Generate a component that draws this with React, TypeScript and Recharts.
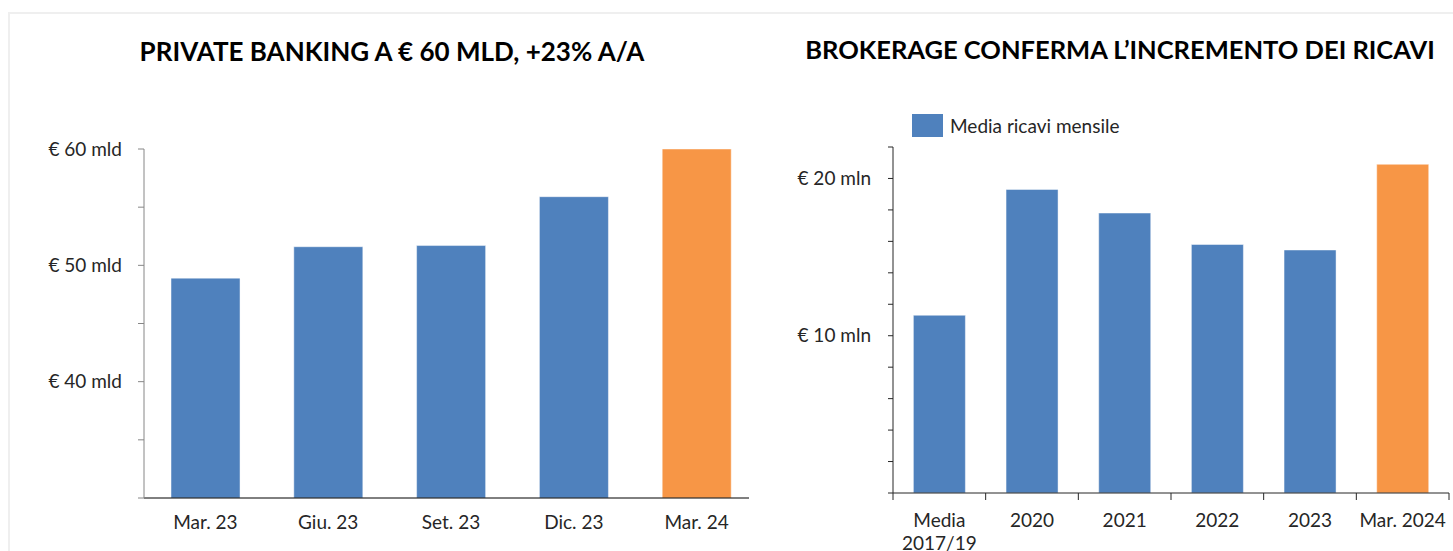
import { BarChart, Bar, XAxis, YAxis, Cell } from "recharts"

const BLUE = "#4F81BD"
const ORANGE = "#F79646"
const FONT = "Lato, 'Open Sans', sans-serif"

// Private banking (mld)
const PB_CATEGORIES = ["Mar. 23", "Giu. 23", "Set. 23", "Dic. 23", "Mar. 24"]
const PB_VALUES = [48.9, 51.6, 51.7, 55.9, 60.0]
const PB_TICKS = [30, 35, 40, 45, 50, 55, 60]
const PB_TICK_LABELS: Record<number, string> = { 40: "€ 40 mld", 50: "€ 50 mld", 60: "€ 60 mld" }

// Brokerage (mln)
const BR_CATEGORIES = ["Media\n2017/19", "2020", "2021", "2022", "2023", "Mar. 2024"]
const BR_VALUES = [11.3, 19.3, 17.8, 15.8, 15.45, 20.9]
const BR_TICKS = [0, 2, 4, 6, 8, 10, 12, 14, 16, 18, 20, 22]
const BR_TICK_LABELS: Record<number, string> = { 10: "€ 10 mln", 20: "€ 20 mln" }

const pbData = PB_CATEGORIES.map((name, i) => ({ name, value: PB_VALUES[i] }))
const brData = BR_CATEGORIES.map((name, i) => ({ name, value: BR_VALUES[i] }))

const BR_TICK_LEN = 7
const BR_TICK_MARGIN = 14

// category ticks drawn between bars, excel style
function BrokerageTick(props: any) {
  const { x, y, payload, index, visibleTicksCount } = props
  const half = payload?.offset ?? 46
  const axisY = y - BR_TICK_LEN - BR_TICK_MARGIN
  const lines = String(payload.value).split("\n")
  const isLast = index === (visibleTicksCount ?? BR_CATEGORIES.length) - 1
  return (
    <g>
      <line x1={x - half} x2={x - half} y1={axisY} y2={axisY + BR_TICK_LEN} stroke="#262626" />
      {isLast && <line x1={x + half} x2={x + half} y1={axisY} y2={axisY + BR_TICK_LEN} stroke="#262626" />}
      <text x={x} y={y} textAnchor="middle" fill="#262626" fontSize={19} fontFamily={FONT}>
        {lines.map((l, i) => (
          <tspan key={i} x={x} dy={i === 0 ? "0.71em" : 23}>{l}</tspan>
        ))}
      </text>
    </g>
  )
}

const titleStyle: React.CSSProperties = {
  position: "absolute",
  top: 35,
  fontFamily: FONT,
  fontWeight: 700,
  fontSize: 26,
  color: "#000",
  whiteSpace: "nowrap",
  transform: "translateX(-50%)",
}

export default function App() {
  return (
    <div style={{ position: "fixed", left: 0, top: 0, width: 1453, height: 551, background: "#fff", overflow: "hidden" }}>
      {/* left chart */}
      <div style={{ position: "absolute", left: 0, top: 0 }}>
        <BarChart width={770} height={551} data={pbData} margin={{ top: 149, right: 12, bottom: 23, left: 44 }} barCategoryGap="22%">
          <XAxis
            dataKey="name"
            height={30}
            axisLine={{ stroke: "#000" }}
            tickLine={false}
            tickMargin={12}
            tick={{ fill: "#262626", fontSize: 19, fontFamily: FONT }}
          />
          <YAxis
            width={100}
            domain={[30, 60]}
            ticks={PB_TICKS}
            interval={0}
            axisLine={{ stroke: "#868686" }}
            tickLine={{ stroke: "#868686" }}
            tickSize={6}
            tickMargin={16}
            tickFormatter={(v: number) => PB_TICK_LABELS[v] ?? ""}
            tick={{ fill: "#262626", fontSize: 19, fontFamily: FONT }}
          />
          <Bar dataKey="value" isAnimationActive={false} stroke="rgba(255,255,255,0.45)" strokeWidth={1}>
            {pbData.map((d, i) => (
              <Cell key={d.name} fill={i === pbData.length - 1 ? ORANGE : BLUE} />
            ))}
          </Bar>
        </BarChart>
      </div>

      {/* right chart */}
      <div style={{ position: "absolute", left: 749, top: 0, width: 704, height: 551, background: "#fff" }}>
        <BarChart width={704} height={551} data={brData} margin={{ top: 147, right: 4, bottom: 18, left: 44 }} barCategoryGap="22%">
          <XAxis
            dataKey="name"
            height={40}
            interval={0}
            axisLine={{ stroke: "#262626" }}
            tickLine={false}
            tickSize={BR_TICK_LEN}
            tickMargin={BR_TICK_MARGIN}
            tick={<BrokerageTick />}
          />
          <YAxis
            width={100}
            domain={[0, 22]}
            ticks={BR_TICKS}
            interval={0}
            axisLine={{ stroke: "#262626" }}
            tickLine={{ stroke: "#262626" }}
            tickSize={5}
            tickMargin={17}
            tickFormatter={(v: number) => BR_TICK_LABELS[v] ?? ""}
            tick={{ fill: "#262626", fontSize: 19, fontFamily: FONT }}
          />
          <Bar dataKey="value" name="Media ricavi mensile" isAnimationActive={false} stroke="rgba(255,255,255,0.45)" strokeWidth={1}>
            {brData.map((d, i) => (
              <Cell key={d.name} fill={i === brData.length - 1 ? ORANGE : BLUE} />
            ))}
          </Bar>
        </BarChart>
      </div>

      {/* legend */}
      <div style={{ position: "absolute", left: 912, top: 114, display: "flex", alignItems: "center", gap: 7 }}>
        <span style={{ width: 31, height: 23, background: BLUE, display: "inline-block" }} />
        <span style={{ fontFamily: FONT, fontSize: 19, color: "#262626" }}>Media ricavi mensile</span>
      </div>

      {/* titles */}
      <div style={{ ...titleStyle, left: 392 }}>PRIVATE BANKING A € 60 MLD, +23% A/A</div>
      <div style={{ ...titleStyle, left: 1120, fontSize: 25.5, top: 34 }}>BROKERAGE CONFERMA L’INCREMENTO DEI RICAVI</div>

      {/* frame */}
      <div style={{ position: "absolute", left: 8, top: 12, width: 1500, height: 600, borderTop: "2px solid #efefef", borderLeft: "2px solid #efefef", pointerEvents: "none" }} />
    </div>
  )
}
